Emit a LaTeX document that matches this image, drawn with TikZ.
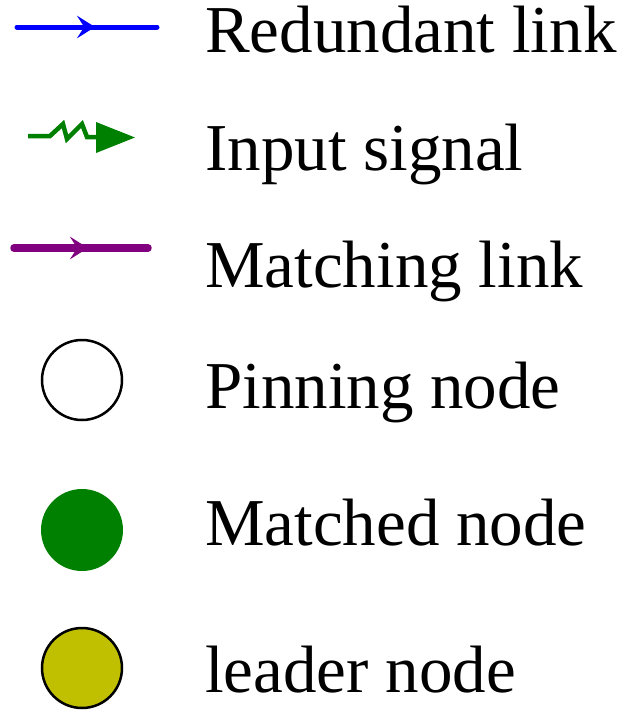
\documentclass[tikz,border=0pt]{standalone}
\usepackage{fontspec}
\setmainfont{Liberation Serif}
\usetikzlibrary{arrows.meta,decorations.markings}
\definecolor{leadcol}{RGB}{192,192,0}
\definecolor{matchcol}{RGB}{128,0,128}
\definecolor{sigcol}{RGB}{0,128,0}
\tikzset{
  legtext/.style={anchor=base west,inner sep=0pt,font=\fontsize{67}{70}\selectfont},
  legdot/.style={circle,minimum size=80pt,inner sep=0pt},
  midtip/.style 2 args={postaction={decorate},decoration={markings,
    mark=at position #1 with {\arrow{Stealth[length=#2,width=1.25*#2,inset=0.4*#2]}}}}
}
\begin{document}
\begin{tikzpicture}[x=1pt,y=-1pt]
  \useasboundingbox (0,0) rectangle (621,720);
  \coordinate (ra) at (17,27);
  \coordinate (rb) at (157,27);
  \draw[blue,line width=5pt,line cap=round,midtip={78pt}{18pt}] (ra) -- (rb);
  \node[legtext] (red) at (205,52) {Redundant link};
  \coordinate (sa) at (28,136);
  \coordinate (sb) at (97,137);
  \draw[sigcol,line width=4.5pt,line join=miter] (sa) -- (50,136) -- (63,124) -- (67,139) -- (82,124) -- (87,137) -- (sb);
  \fill[sigcol] (96,122) -- (135,137.5) -- (96,153) -- cycle;
  \node[legtext] (inp) at (205,170) {Input signal};
  \coordinate (ma) at (14,248);
  \coordinate (mb) at (148,248);
  \draw[matchcol,line width=7.5pt,line cap=round,midtip={74pt}{18pt}] (ma) -- (mb);
  \node[legtext] (mat) at (205,287) {Matching link};
  \node[legdot,draw=black,line width=2.5pt,fill=white] (pin) at (82,380) {};
  \node[legtext] (pint) at (205,408) {Pinning node};
  \node[legdot,fill=sigcol,minimum size=82pt] (mtc) at (82,530) {};
  \node[legtext] (mtct) at (205,545) {Matched node};
  \node[legdot,draw=black,line width=2.5pt,fill=leadcol] (lead) at (82,668) {};
  \node[legtext] (leadt) at (205,692) {leader node};
\end{tikzpicture}
\end{document}
